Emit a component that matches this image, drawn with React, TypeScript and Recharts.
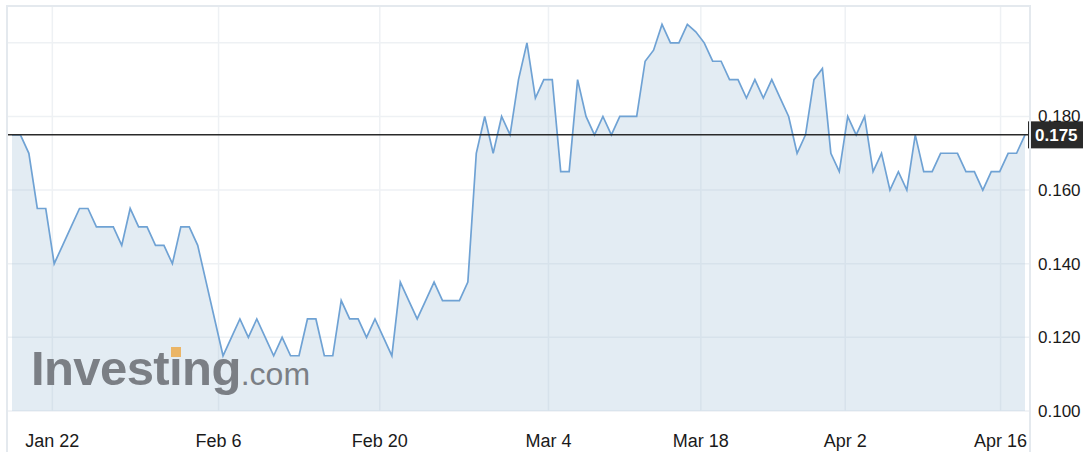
import React from 'react';
import { AreaChart, Area, XAxis, YAxis, CartesianGrid, ReferenceLine } from 'recharts';

// closing prices, one per sample
const prices = [
  0.175, 0.175, 0.17, 0.155, 0.155, 0.14, 0.145, 0.15, 0.155, 0.155,
  0.15, 0.15, 0.15, 0.145, 0.155, 0.15, 0.15, 0.145, 0.145, 0.14,
  0.15, 0.15, 0.145, 0.135, 0.125, 0.115, 0.12, 0.125, 0.12, 0.125,
  0.12, 0.115, 0.12, 0.115, 0.115, 0.125, 0.125, 0.115, 0.115, 0.13,
  0.125, 0.125, 0.12, 0.125, 0.12, 0.115, 0.135, 0.13, 0.125, 0.13,
  0.135, 0.13, 0.13, 0.13, 0.135, 0.17, 0.18, 0.17, 0.18, 0.175,
  0.19, 0.2, 0.185, 0.19, 0.19, 0.165, 0.165, 0.19, 0.18, 0.175,
  0.18, 0.175, 0.18, 0.18, 0.18, 0.195, 0.198, 0.205, 0.2, 0.2,
  0.205, 0.203, 0.2, 0.195, 0.195, 0.19, 0.19, 0.185, 0.19, 0.185,
  0.19, 0.185, 0.18, 0.17, 0.175, 0.19, 0.193, 0.17, 0.165, 0.18,
  0.175, 0.18, 0.165, 0.17, 0.16, 0.165, 0.16, 0.175, 0.165, 0.165,
  0.17, 0.17, 0.17, 0.165, 0.165, 0.16, 0.165, 0.165, 0.17, 0.17,
  0.175,
];

const dateLabels = ['Jan 22', 'Feb 6', 'Feb 20', 'Mar 4', 'Mar 18', 'Apr 2', 'Apr 16'];
const datePositions = [4.78, 24.47, 43.57, 63.55, 81.6, 98.7, 117.1];

const priceTicks = [0.1, 0.12, 0.14, 0.16, 0.18, 0.2];

const data = prices.map((v, i) => ({ i, v }));
const lastPrice = prices[prices.length - 1];

const FONT = '"Liberation Sans", Arial, Helvetica, sans-serif';

const PriceTick = (props: any) => {
  const { x, y, payload } = props;
  if (payload.value >= 0.2) return null;
  return (
    <text x={x} y={y} dy={6} fill="#1a1a1a" fontSize={17} fontFamily={FONT} textAnchor="start">
      {payload.value.toFixed(3)}
    </text>
  );
};

const PriceTag = (props: any) => {
  const vb = props.viewBox || {};
  const right = (vb.x || 0) + (vb.width || 0);
  const y = vb.y || 0;
  return (
    <g>
      <rect x={right - 2} y={y - 13.5} width={55} height={27} fill="#2a2a2a" />
      <text
        x={right + 5}
        y={y + 6}
        fill="#ffffff"
        fontSize={17}
        fontWeight="bold"
        fontFamily={FONT}
      >
        {lastPrice.toFixed(3)}
      </text>
    </g>
  );
};

export default function App() {
  return (
    <div
      style={{
        position: 'absolute',
        left: 0,
        top: 0,
        width: 1085,
        height: 452,
        background: '#ffffff',
        fontFamily: FONT,
        overflow: 'hidden',
      }}
    >
      <AreaChart width={1085} height={452} data={data} margin={{ top: 6, right: 0, left: 7, bottom: 0 }}>
        <CartesianGrid stroke="#eef1f4" strokeWidth={1.5} />
        <XAxis
          dataKey="i"
          type="number"
          domain={[-0.59, 120.59]}
          ticks={datePositions}
          interval={0}
          tickFormatter={(v: number) => dateLabels[datePositions.indexOf(v)] ?? ''}
          axisLine={false}
          tickLine={false}
          tickMargin={17}
          height={41}
          tick={{ fill: '#1a1a1a', fontSize: 18, fontFamily: FONT }}
        />
        <YAxis
          orientation="right"
          type="number"
          domain={[0.1, 0.21]}
          ticks={priceTicks}
          interval={0}
          width={55}
          axisLine={false}
          tickLine={false}
          tick={<PriceTick />}
        />
        <Area
          type="linear"
          dataKey="v"
          stroke="#6fa2d4"
          strokeWidth={1.7}
          fill="#a9c4dc"
          fillOpacity={0.33}
          dot={false}
          activeDot={false}
          isAnimationActive={false}
        />
        <ReferenceLine y={lastPrice} stroke="#2a2a2a" strokeWidth={1.5} label={(p: any) => <PriceTag {...p} />} />
      </AreaChart>

      {/* chart frame */}
      <div
        style={{
          position: 'absolute',
          left: 6,
          top: 5,
          width: 1025,
          height: 460,
          boxSizing: 'border-box',
          borderTop: '2px solid #e4e9ee',
          borderLeft: '2px solid #e4e9ee',
          borderRight: '2px solid #e4e9ee',
          pointerEvents: 'none',
        }}
      />

      {/* watermark */}
      <div
        style={{
          position: 'absolute',
          left: 31,
          top: 344,
          whiteSpace: 'nowrap',
          color: '#7b7f85',
          lineHeight: 1,
          pointerEvents: 'none',
        }}
      >
        <span style={{ fontSize: 49, fontWeight: 'bold', letterSpacing: -0.6 }}>
          Invest
          <span style={{ position: 'relative' }}>
            ı
            <span
              style={{
                position: 'absolute',
                left: 2,
                top: 6,
                width: 10,
                height: 10,
                background: '#ebb566',
              }}
            />
          </span>
          ng
        </span>
        <span style={{ fontSize: 32 }}>.com</span>
      </div>
    </div>
  );
}
